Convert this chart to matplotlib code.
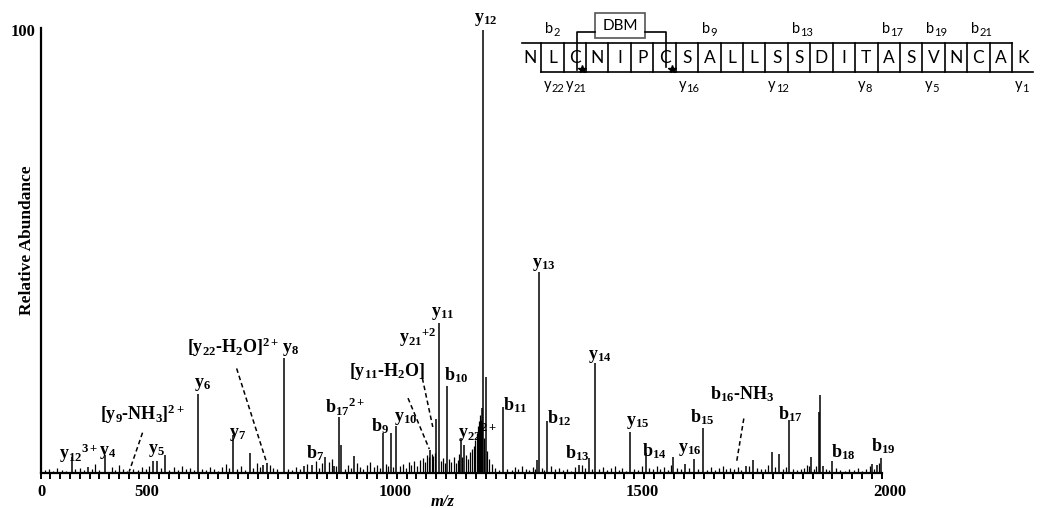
import matplotlib
matplotlib.use("Agg")
import matplotlib.pyplot as plt
from matplotlib.transforms import ScaledTranslation

plt.rcParams["font.family"] = ["Liberation Serif", "DejaVu Serif"]
plt.rcParams["mathtext.fontset"] = "custom"
plt.rcParams["mathtext.rm"] = "Liberation Serif:bold"
plt.rcParams["mathtext.it"] = "Liberation Serif:italic:bold"
plt.rcParams["mathtext.bf"] = "Liberation Serif:bold"
plt.rcParams["mathtext.default"] = "rm"

# main fragment peaks (m/z, relative abundance %)
ion_mz = [364, 396, 431, 529, 536, 553, 619, 689, 724, 751, 758, 792, 832, 849,
          876, 893, 903, 908, 934, 992, 1008, 1019, 1088, 1100, 1105, 1122,
          1149, 1157, 1192, 1195, 1200, 1235, 1303, 1307, 1324, 1388, 1408,
          1420, 1492, 1524, 1579, 1603, 1621, 1639, 1726, 1740, 1777, 1793,
          1812, 1856, 1872, 1875, 1881, 1899, 1980, 1989, 1997]
ion_int = [3.7, 1.4, 4.1, 2.8, 2.8, 4.0, 17.8, 8.6, 4.6, 1.8, 2.2, 25.9, 1.5, 1.8,
           3.5, 1.5, 12.6, 6.3, 3.8, 9.0, 9.1, 10.6, 5.2, 12.3, 33.8, 19.6,
           7.8, 6.3, 14.6, 100, 21.7, 14.8, 2.9, 45.4, 11.8, 1.8, 3.3,
           24.8, 9.3, 4.5, 3.6, 2.0, 3.1, 10.2, 1.5, 2.9, 4.8, 4.4,
           12.0, 3.5, 13.8, 17.6, 1.5, 2.6, 2.0, 1.8, 3.3]

# low level background peaks
noise_mz = [310, 318, 327, 335, 344, 352, 371, 380, 388, 404, 412, 420, 445, 452,
            460, 468, 476, 488, 497, 505, 514, 521, 544, 561, 570, 578, 587, 595,
            603, 611, 627, 636, 644, 652, 660, 668, 676, 682, 697, 705, 713, 731,
            738, 744, 764, 770, 778, 800, 808, 816, 824, 840, 857, 864, 870, 884,
            889, 897, 915, 922, 928, 940, 946, 953, 960, 967, 974, 980, 986, 998,
            1003, 1013, 1026, 1032, 1038, 1044, 1050, 1056, 1062, 1068, 1074,
            1078, 1082, 1085, 1091, 1094, 1097, 1110, 1114, 1118, 1126, 1130,
            1135, 1139, 1143, 1146, 1153, 1161, 1165, 1169, 1173, 1176, 1179,
            1182, 1185, 1187, 1189, 1191, 1193, 1197, 1203, 1207, 1212, 1218,
            1226, 1243, 1252, 1259, 1266, 1274, 1281, 1288, 1295, 1300, 1314,
            1318, 1332, 1340, 1348, 1356, 1364, 1372, 1380, 1395, 1400, 1414,
            1428, 1436, 1444, 1452, 1460, 1468, 1476, 1484, 1500, 1508, 1516,
            1530, 1538, 1545, 1552, 1560, 1567, 1574, 1586, 1594, 1611, 1628,
            1646, 1654, 1662, 1670, 1678, 1686, 1694, 1702, 1710, 1716, 1732,
            1748, 1756, 1764, 1770, 1784, 1800, 1806, 1820, 1828, 1836, 1842,
            1848, 1852, 1862, 1866, 1886, 1893, 1908, 1916, 1925, 1934, 1944,
            1952, 1960, 1968, 1975, 1984, 1993]
noise_int = [0.6, 0.9, 0.5, 1.1, 0.7, 0.4, 0.8, 1.2, 0.6, 0.9, 2.0, 0.7, 1.3, 0.6,
             1.8, 0.9, 0.5, 1.0, 0.6, 1.4, 0.8, 1.6, 1.1, 0.7, 1.3, 0.6, 1.5, 0.8,
             1.2, 0.7, 1.0, 0.6, 1.3, 0.8, 0.5, 1.4, 2.0, 1.1, 0.9, 1.6, 0.7, 1.1,
             2.2, 1.4, 1.9, 1.2, 0.8, 1.0, 0.6, 1.3, 0.8, 2.1, 2.8, 1.2, 2.3, 2.5,
             3.1, 1.6, 1.0, 1.8, 1.1, 2.2, 1.4, 0.9, 1.7, 2.4, 1.3, 1.9, 1.1, 2.0,
             1.5, 1.3, 1.6, 2.1, 1.2, 2.4, 1.8, 2.6, 1.5, 2.9, 3.3,
             2.5, 4.1, 3.6, 4.4, 3.8, 4.6, 2.8, 3.4, 2.3, 3.1, 2.4,
             3.6, 2.2, 3.0, 4.2, 3.5, 4.0, 3.2, 4.8, 5.4, 6.2, 7.5,
             9.0, 10.5, 11.8, 13.2, 12.0, 11.0, 8.0, 5.0, 3.2, 2.0, 1.1,
             0.7, 1.0, 0.6, 1.3, 0.8, 1.6, 1.0, 0.6, 1.4, 0.9, 1.2,
             0.7, 1.5, 0.8, 1.2, 0.6, 1.0, 0.5, 1.3, 1.8, 1.1, 0.8,
             0.9, 1.4, 0.6, 1.2, 1.6, 0.7, 1.1, 0.5, 1.0, 0.6, 1.5,
             1.2, 0.8, 1.6, 1.0, 1.3, 0.7, 1.8, 1.1, 0.8, 1.2, 0.9,
             0.7, 1.3, 0.6, 1.1, 1.5, 0.8, 1.2, 0.9, 1.4, 0.7, 1.6,
             1.2, 0.8, 1.0, 1.9, 1.3, 0.9, 1.4, 0.8, 0.6, 0.9, 1.2,
             1.8, 1.5, 1.0, 1.6, 0.9, 0.6, 1.1, 0.7, 0.5, 0.9, 0.6,
             1.2, 0.5, 0.8, 1.5, 1.0, 2.2]

# peak annotations: text, m/z, height
label_text = [r"$y_{12}$", r"$y_{13}$", r"$y_{11}$", r"$y_{21}{}^{+2}$",
              r"$[y_{11}\text{-}H_2O]$", r"$b_{10}$", r"$b_{11}$", r"$y_{14}$",
              r"$b_{12}$", r"$y_{15}$", r"$b_{13}$", r"$b_{14}$", r"$b_9$",
              r"$y_{10}$", r"$y_{22}{}^{2+}$", r"$b_{17}{}^{2+}$", r"$b_7$",
              r"$[y_{22}\text{-}H_2O]^{2+}$", r"$y_8$", r"$y_6$", r"$y_7$",
              r"$[y_9\text{-}NH_3]^{2+}$", r"$y_5$", r"$y_4$", r"$y_{12}{}^{3+}$",
              r"$b_{15}$", r"$y_{16}$", r"$b_{16}\text{-}NH_3$", r"$b_{17}$",
              r"$b_{18}$", r"$b_{19}$"]
label_mz = [1199, 1316, 1112, 1062, 1001, 1140, 1260, 1431, 1349, 1506, 1385,
            1540, 987, 1039, 1183, 915, 856, 690, 805, 629, 698, 506, 536, 437,
            377, 1637, 1611, 1718, 1815, 1922, 2003]
label_y = [102.3, 47.0, 36.1, 30.6, 23.0, 22.1, 15.3, 26.4, 12.4, 11.5, 4.5,
           5.0, 10.6, 12.2, 9.2, 14.9, 4.5, 28.4, 27.8, 19.9, 8.6, 13.3, 5.0,
           4.7, 4.4, 12.6, 5.4, 17.8, 13.3, 4.7, 6.1]

# dashed leaders from labels down to their peaks
leader_mz = [(507, 480), (697, 758), (1043, 1086), (1072, 1093), (1721, 1706)]
leader_y = [(9.1, 0.3), (23.6, 2.2), (16.9, 5.4), (21.4, 10.4), (12.3, 2.2)]

# peptide and observed fragments
sequence = list("NLCNIPCSALLSSDITASVNCAK")
b_ions = [2, 9, 13, 17, 19, 21]
y_ions = [22, 21, 16, 12, 8, 5, 1]

fig = plt.figure(figsize=(10.42, 5.08), dpi=100)
W, H = 1042, 508
ax = fig.add_axes([41 / W, 1 - 473 / H, (882 - 41) / W, (473 - 28) / H])

ax.vlines(noise_mz, 0, noise_int, color="black", lw=0.9)
ax.vlines(ion_mz, 0, ion_int, color="black", lw=1.1)

for t, x, y in zip(label_text, label_mz, label_y):
    ax.text(x, y, t, ha="center", va="center", fontsize=13, clip_on=False)

for xs, ys in zip(leader_mz, leader_y):
    ax.plot(xs, ys, color="black", lw=1.1, ls=(0, (3, 2)))

ax.set_xlim(302, 2000)
ax.set_ylim(0, 100.45)
for s in ["top", "right"]:
    ax.spines[s].set_visible(False)
for s in ["left", "bottom"]:
    ax.spines[s].set_linewidth(1.6)

ax.set_xticks([302, 500, 1000, 1500, 2000])
ax.set_xticklabels(["0", "500", "1000", "1500", "2000"])
ax.set_xticks(range(320, 2001, 20), minor=True)
ax.tick_params(axis="x", which="both", direction="out", length=4, width=1.4,
               labelsize=12, pad=4)
for lab in ax.get_xticklabels()[1:]:
    lab.set_transform(lab.get_transform() + ScaledTranslation(0.08, 0, fig.dpi_scale_trans))
for lab in ax.get_xticklabels():
    lab.set_fontweight("bold")

ax.set_yticks([100])
ax.set_yticklabels(["100"])
ax.tick_params(axis="y", length=0, labelsize=12, pad=4)
for lab in ax.get_yticklabels():
    lab.set_fontweight("bold")

fig.text(27 / W, 1 - 240 / H, "Relative Abundance", rotation=90, ha="center",
         va="center", fontsize=12.5, fontweight="bold")
fig.text(443 / W, 1 - 494 / H, "m/z", ha="center", va="top", fontsize=12,
         fontweight="bold", fontstyle="italic")

# sequence map, drawn in pixel space on an overlay
ov = fig.add_axes([0, 0, 1, 1], facecolor="none")
ov.set_xlim(0, W)
ov.set_ylim(H, 0)
ov.axis("off")

x0, step = 530, 22.42
top, bot = 43.3, 71.7
centers = [x0 + i * step for i in range(len(sequence))]
sans = "Lato"
for c, aa in zip(centers, sequence):
    ov.text(c, 58, aa, ha="center", va="center", fontsize=12.5, family=sans)
ov.plot([centers[0] - 8, centers[-1] - step / 2], [top, top], color="black", lw=1.2)
ov.plot([centers[0] + step / 2, centers[-1] + 10], [bot, bot], color="black", lw=1.2)
for c in centers[:-1]:
    ov.plot([c + step / 2, c + step / 2], [top, bot], color="black", lw=1.2)


def sub_label(x, y, base, num, va):
    t = ov.text(x, y, base, ha="right", va=va, fontsize=10.5, family=sans)
    ov.text(x, y + 3, str(num), ha="left", va=va, fontsize=8, family=sans)
    return t


for n in b_ions:
    sub_label(centers[n - 1] + 1, 33, "b", n, "baseline")
for n in y_ions:
    sub_label(centers[23 - n] - 1, 89, "y", n, "baseline")

# disulfide bridge with the DBM linker
ov.add_patch(plt.Rectangle((595, 12.7), 50, 25.6, fill=False, ec="#555555", lw=1.2))
ov.text(620, 25.5, "DBM", ha="center", va="center", fontsize=11, family=sans)
ov.plot([595, centers[2] + 2, centers[2] + 2], [31.7, 31.7, 70], color="black", lw=1.2)
ov.plot([645, centers[6] + 1.5, centers[6] + 1.5], [31.7, 31.7, 67], color="black", lw=1.2)
ov.plot([centers[2] + 7, centers[6] + 7], [69, 69], ls="none", marker="*",
        ms=6, color="black")

fig.savefig("out.png", dpi=100)
